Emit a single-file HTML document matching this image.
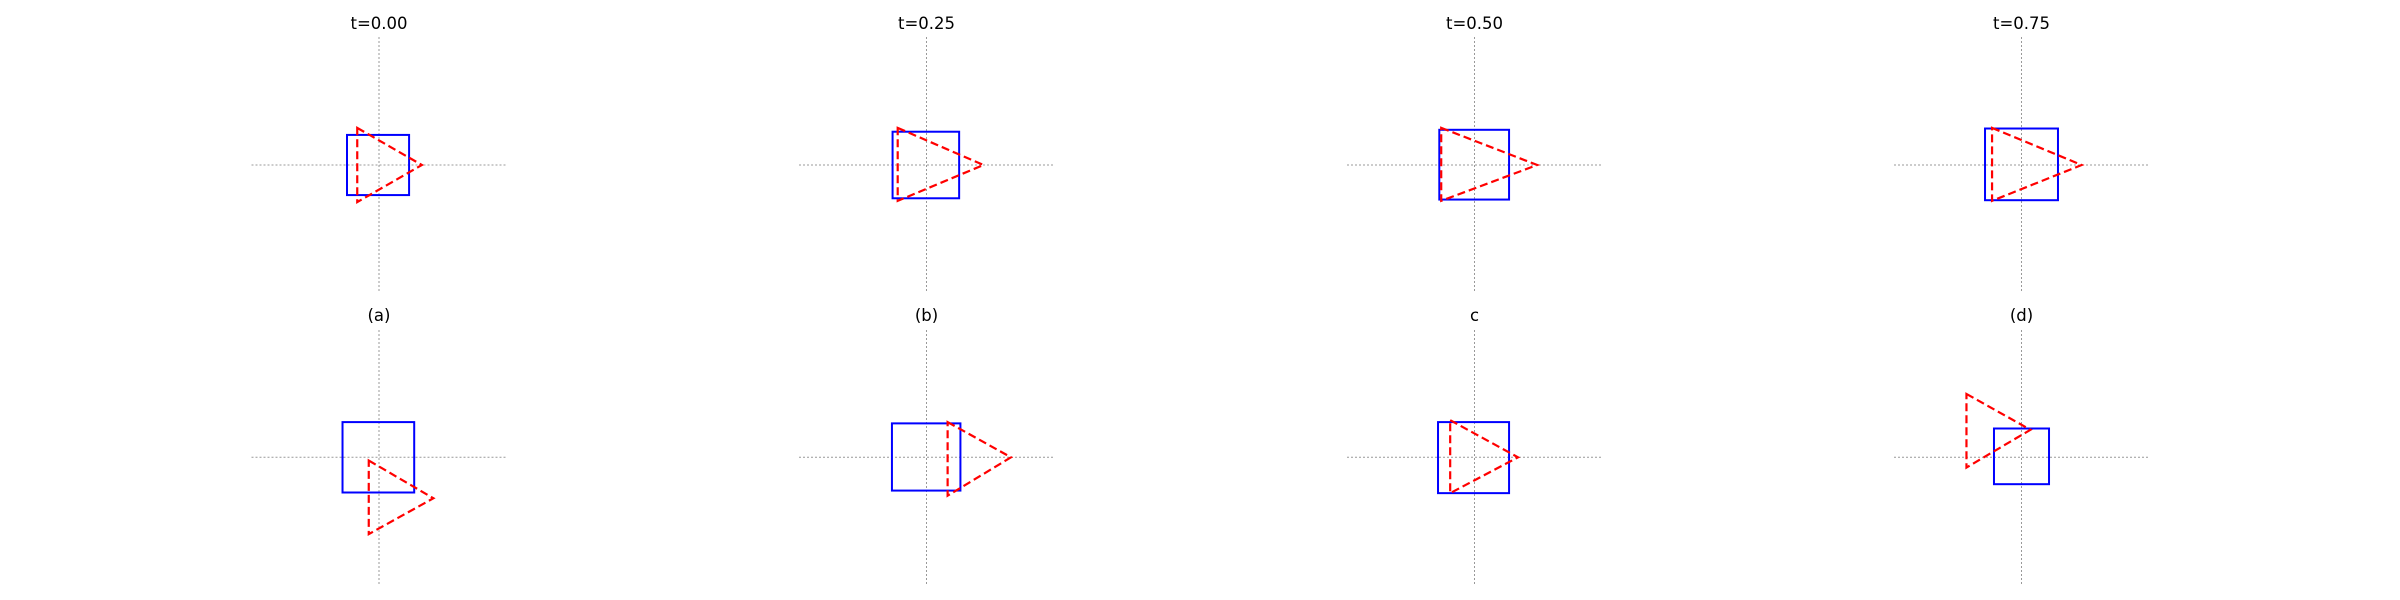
<!DOCTYPE html>
<html><head><meta charset="utf-8"><style>
html,body{margin:0;padding:0;background:#fff;}
svg{display:block;}
text{font-family:"DejaVu Sans","Liberation Sans",sans-serif;font-size:16.5px;fill:#000;}
</style></head><body>
<svg id="chart" width="2400" height="600" viewBox="0 0 2400 600"></svg>
<script>
const titles = ["t=0.00","t=0.25","t=0.50","t=0.75","(a)","(b)","c","(d)"];
// squares: [xmin, xmax, ymin, ymax] in data units
const squares = [
  [-0.50,0.47,-0.47,0.47],[-0.53,0.51,-0.52,0.52],[-0.55,0.54,-0.54,0.55],[-0.57,0.57,-0.55,0.57],
  [-0.57,0.55,-0.55,0.55],[-0.54,0.53,-0.52,0.53],[-0.57,0.54,-0.56,0.55],[-0.43,0.43,-0.42,0.45]
];
// triangle vertices x and y
const triX = [
  [-0.34,0.67,-0.34],[-0.45,0.89,-0.45],[-0.52,0.98,-0.52],[-0.46,0.94,-0.46],
  [-0.16,0.85,-0.16],[0.33,1.32,0.33],[-0.38,0.68,-0.38],[-0.86,0.14,-0.86]
];
const triY = [
  [0.58,0,-0.58],[0.58,0,-0.56],[0.58,0,-0.56],[0.58,0,-0.56],
  [-0.05,-0.64,-1.2],[0.55,0,-0.6],[0.58,0,-0.56],[0.99,0.43,-0.16]
];
const NS="http://www.w3.org/2000/svg";
const svg=document.getElementById('chart');
const colCx=[379,926.5,1474.5,2021.5], rowCy=[165,457.3], rowTop=[37,330], rowBot=[293,584], titleY=[29,321];
const S=64, HW=127.5;
function mk(tag,attrs,parent){const e=document.createElementNS(NS,tag);for(const k in attrs)e.setAttribute(k,attrs[k]);(parent||svg).appendChild(e);return e;}
for(let i=0;i<8;i++){
  const r=Math.floor(i/4), c=i%4, cx=colCx[c], cy=rowCy[r];
  const sx=v=>cx+v*S, sy=v=>cy-v*S;
  const g=mk('g',{});
  
  
  const hx=mk('line',{x1:cx-HW,x2:cx+HW,y1:cy,y2:cy,stroke:'#999','stroke-width':1,'stroke-dasharray':'2,2'},g);
  
  
  const vy=mk('line',{x1:cx,x2:cx,y1:rowTop[r],y2:rowBot[r],stroke:'#999','stroke-width':1,'stroke-dasharray':'2,2'},g);
  
  
  const q=squares[i];
  const sq=mk('rect',{x:sx(q[0]),y:sy(q[3]),width:(q[1]-q[0])*S,height:(q[3]-q[2])*S,fill:'none',stroke:'#0000ff','stroke-width':2},g);
  
  
  const pts=triX[i].map((x,k)=>sx(x)+','+sy(triY[i][k])).join(' ');
  const tr=mk('polygon',{points:pts,fill:'none',stroke:'#ff0000','stroke-width':2.2,'stroke-dasharray':'8,4'},g);
  
  
  const t=mk('text',{x:cx,y:titleY[r],'text-anchor':'middle'},g);
  t.textContent=titles[i];
  
  
}
</script>
</body></html>
